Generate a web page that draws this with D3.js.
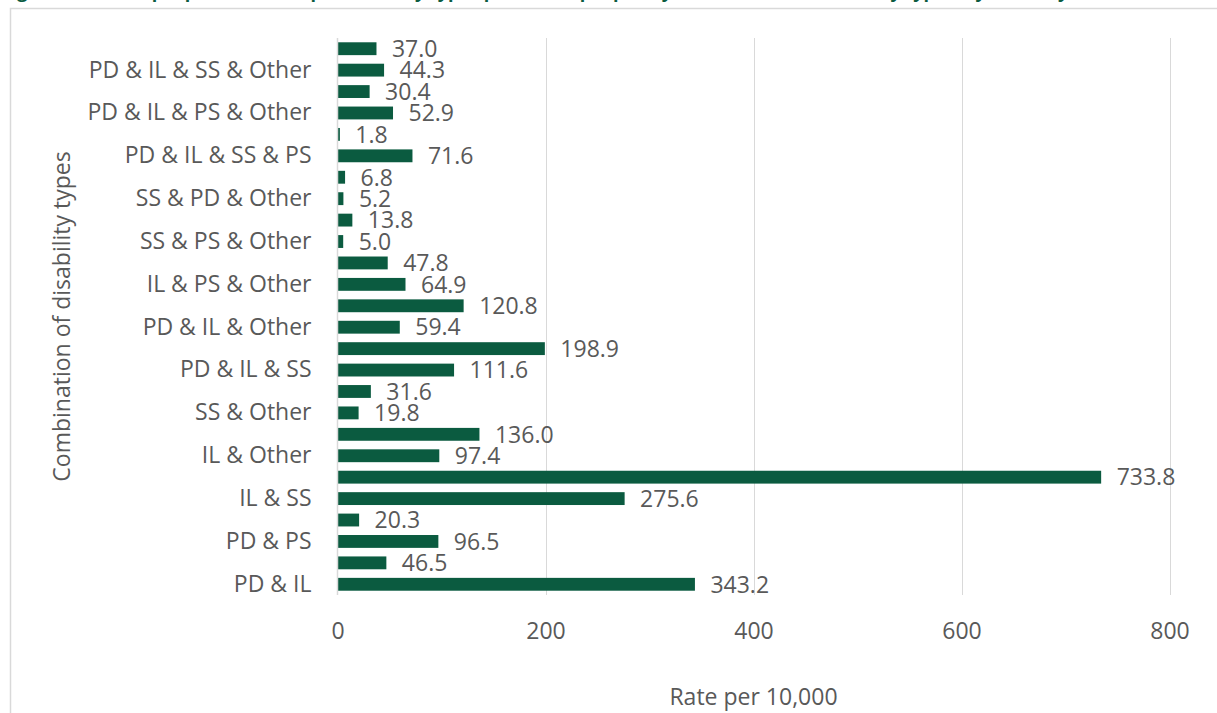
<!DOCTYPE html>
<html>
<head>
<meta charset="utf-8">
<script src="https://cdn.jsdelivr.net/npm/d3@7"></script>
<style>
  html, body { margin: 0; padding: 0; background: #ffffff; }
  svg { display: block; }
  text { font-family: "Open Sans", "Noto Sans", sans-serif; }
</style>
</head>
<body>
<svg id="chart" width="1217" height="713"></svg>
<script>
// Combinations of disability types, listed from the bottom of the chart upwards
const categories = [
  "PD & IL", "PD & SS", "PD & PS", "PD & Other",
  "IL & SS", "IL & PS", "IL & Other", "SS & PS",
  "SS & Other", "PS & Other", "PD & IL & SS", "PD & IL & PS",
  "PD & IL & Other", "PD & SS & PS", "IL & PS & Other", "IL & SS & PS",
  "SS & PS & Other", "IL & SS & Other", "SS & PD & Other", "PD & PS & Other",
  "PD & IL & SS & PS", "IL & SS & PS & Other", "PD & IL & PS & Other", "PD & SS & PS & Other",
  "PD & IL & SS & Other", "PD & IL & SS & PS & Other"
];

// Rate per 10,000, same order as categories
const rates = [
  343.2, 46.5, 96.5, 20.3,
  275.6, 733.8, 97.4, 136.0,
  19.8, 31.6, 111.6, 198.9,
  59.4, 120.8, 64.9, 47.8,
  5.0, 13.8, 5.2, 6.8,
  71.6, 1.8, 52.9, 30.4,
  44.3, 37.0
];

// Only every second category name is printed on the axis
const shownLabels = categories.filter((d, i) => i % 2 === 0);

const xTicks = [0, 200, 400, 600, 800];

const titleText = "Figure 6: Rate of people with multiple disability types per 10,000 people, by combination of disability types, by territory";
const xTitle = "Rate per 10,000";
const yTitle = "Combination of disability types";

const svg = d3.select("#chart");
const W = 1217, H = 713;

const FONT = "'Open Sans', 'Noto Sans', sans-serif";
const FS = 23;
const textGrey = "#595959";
const gridGrey = "#d9d9d9";
const barGreen = "#0b5b40";

const plot = { left: 337.5, right: 1169.5, top: 38, bottom: 595 };

// Title line (runs above the visible area)
svg.append("text")
  .attr("x", 2)
  .attr("y", -2)
  .attr("fill", "#0b5b40")
  .attr("font-weight", "bold")
  .attr("font-size", 18)
  .text(titleText);

// Chart frame
svg.append("rect")
  .attr("x", 10.5)
  .attr("y", 8.5)
  .attr("width", W + 20)
  .attr("height", H + 20)
  .attr("fill", "none")
  .attr("stroke", gridGrey)
  .attr("stroke-width", 1.5);

const x = d3.scaleLinear()
  .domain([0, 800])
  .range([plot.left, plot.right]);

// First category sits at the bottom of the chart
const y = d3.scaleBand()
  .domain(categories)
  .range([plot.bottom, plot.top])
  .paddingInner(0.4)
  .paddingOuter(0.2);

// Vertical gridlines
svg.append("g")
  .selectAll("line")
  .data(xTicks.filter(t => t > 0))
  .join("line")
  .attr("x1", d => Math.round(x(d)) + 0.5)
  .attr("x2", d => Math.round(x(d)) + 0.5)
  .attr("y1", plot.top)
  .attr("y2", plot.bottom)
  .attr("stroke", gridGrey)
  .attr("stroke-width", 1);

// Bars
svg.append("g")
  .selectAll("rect")
  .data(categories)
  .join("rect")
  .attr("x", x(0) + 0.5)
  .attr("y", d => y(d))
  .attr("width", (d, i) => x(rates[i]) - x(0))
  .attr("height", y.bandwidth())
  .attr("fill", barGreen);

// Category axis line
svg.append("line")
  .attr("x1", plot.left)
  .attr("x2", plot.left)
  .attr("y1", plot.top)
  .attr("y2", plot.bottom)
  .attr("stroke", gridGrey)
  .attr("stroke-width", 1.5);

// Value labels
svg.append("g")
  .selectAll("text")
  .data(categories)
  .join("text")
  .attr("x", (d, i) => x(rates[i]) + 16)
  .attr("y", d => y(d) + y.bandwidth() / 2)
  .attr("dy", "0.36em")
  .attr("fill", textGrey)
  .attr("font-size", FS)
  .text((d, i) => d3.format(".1f")(rates[i]));

// Category axis labels
const yAxis = d3.axisLeft(y)
  .tickValues(shownLabels)
  .tickSize(0)
  .tickPadding(26);
const yG = svg.append("g")
  .attr("transform", `translate(${plot.left},0)`)
  .call(yAxis);
yG.select(".domain").remove();
yG.selectAll("text")
  .attr("fill", textGrey)
  .attr("font-size", FS)
  .attr("font-family", FONT);

// Value axis labels
const xAxis = d3.axisBottom(x)
  .tickValues(xTicks)
  .tickSize(0)
  .tickPadding(28);
const xG = svg.append("g")
  .attr("transform", `translate(0,${plot.bottom})`)
  .call(xAxis);
xG.select(".domain").remove();
xG.selectAll("text")
  .attr("fill", textGrey)
  .attr("font-size", FS)
  .attr("font-family", FONT);

// Axis titles
svg.append("text")
  .attr("x", (plot.left + plot.right) / 2)
  .attr("y", 705)
  .attr("text-anchor", "middle")
  .attr("fill", textGrey)
  .attr("font-size", FS)
  .text(xTitle);

svg.append("text")
  .attr("transform", `translate(70,${(plot.top + plot.bottom) / 2}) rotate(-90)`)
  .attr("text-anchor", "middle")
  .attr("fill", textGrey)
  .attr("font-size", FS)
  .text(yTitle);
</script>
</body>
</html>
